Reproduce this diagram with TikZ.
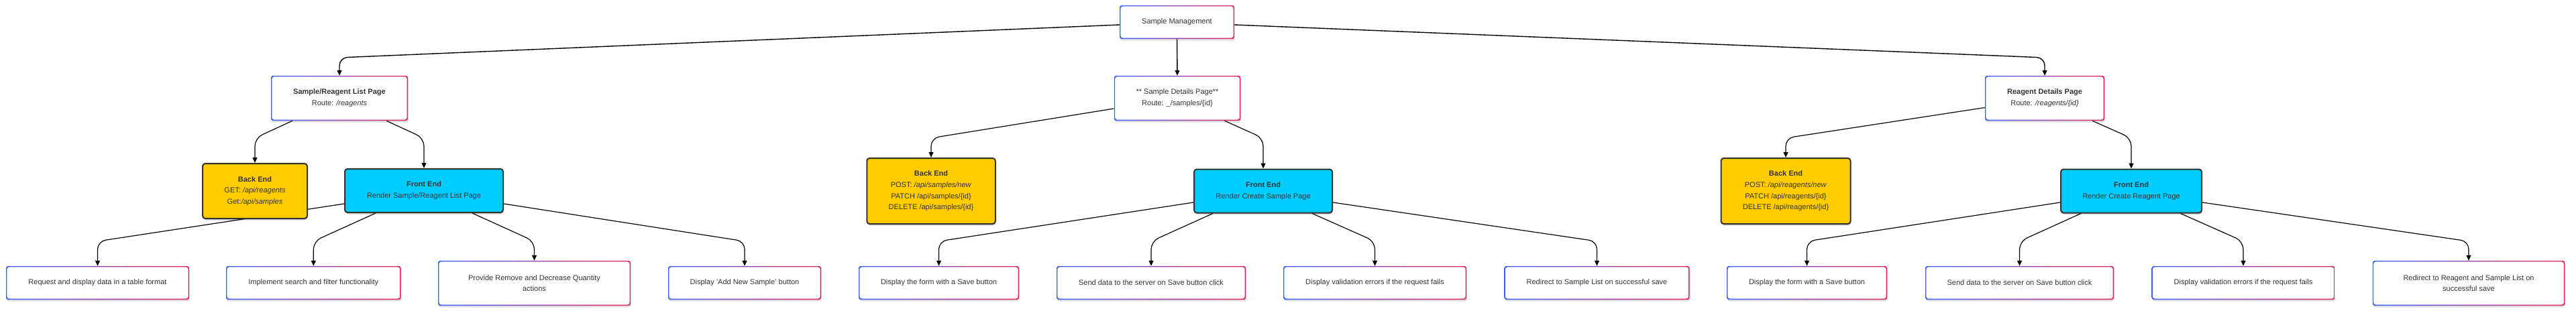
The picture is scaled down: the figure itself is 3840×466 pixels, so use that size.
\documentclass[tikz,border=0pt]{standalone}
\usepackage{fontspec}
\setmainfont{Liberation Sans}
\usetikzlibrary{arrows.meta,shadows,backgrounds}
\definecolor{gblue}{RGB}{55,95,255}
\definecolor{gred}{RGB}{232,35,90}
\definecolor{txt}{RGB}{51,51,51}
\definecolor{beyel}{RGB}{255,204,0}
\definecolor{fecyan}{RGB}{0,204,255}
\definecolor{bord}{RGB}{51,51,51}
\begin{document}
\begin{tikzpicture}[x=1pt,y=1pt,
  every node/.style={font=\fontsize{11}{16.7}\selectfont, text=txt, align=center, inner sep=0pt},
  gradbox/.style={rectangle, rounded corners=3pt, fill=white,
    drop shadow={shadow xshift=0.8pt, shadow yshift=-2.5pt, opacity=0.13, fill=black},
    path picture={
      \shade[left color=gblue, right color=gred, even odd rule]
        (path picture bounding box.south west) rectangle (path picture bounding box.north east)
        ([shift={(1.4pt,1.4pt)}]path picture bounding box.south west) rectangle ([shift={(-1.4pt,-1.4pt)}]path picture bounding box.north east);
    }},
  leafbox/.style={gradbox, minimum height=50},
  leaftall/.style={gradbox, minimum height=67},
  solidbox/.style={rectangle, rounded corners=4pt, draw=bord, line width=2pt,
    drop shadow={shadow xshift=0.8pt, shadow yshift=-2.5pt, opacity=0.18, fill=black}},
  bebox/.style={solidbox, fill=beyel},
  febox/.style={solidbox, fill=fecyan, minimum height=65},
  conn/.style={draw=black, line width=1.2pt, rounded corners=12pt, -{Triangle[length=8pt,width=7pt]}},
  rootconn/.style={conn, line width=1.4pt},
]
\useasboundingbox (0,0) rectangle (3840,-466);

% level 1
\node[gradbox, minimum width=171, minimum height=50] (root) at (1754.5,-33) {Sample Management};

% level 2
\node[gradbox, minimum width=204, minimum height=67] (A) at (506,-146.5) {\textbf{Sample/Reagent List Page}\\Route: \textit{/reagents}};
\node[gradbox, minimum width=188.5, minimum height=67] (B) at (1755,-146.5) {** Sample Details Page**\\Route: \_/samples/\{id\}};
\node[gradbox, minimum width=178, minimum height=67] (C) at (3048,-146.5) {\textbf{Reagent Details Page}\\Route: \textit{/reagents/\{id\}}};

% level 3
\node[bebox, minimum width=156, minimum height=82] (BEA) at (380,-285) {\textbf{Back End}\\GET: \textit{/api/reagents}\\Get:\textit{/api/samples}};
\node[febox, minimum width=236] (FEA) at (632,-284.5) {\textbf{Front End}\\Render Sample/Reagent List Page};
\node[bebox, minimum width=191.5, minimum height=98] (BEB) at (1388,-285) {\textbf{Back End}\\POST: \textit{/api/samples/new}\\PATCH /api/samples/\{id\}\\DELETE /api/samples/\{id\}};
\node[febox, minimum width=206] (FEB) at (1883,-285) {\textbf{Front End}\\Render Create Sample Page};
\node[bebox, minimum width=193, minimum height=98] (BEC) at (2662,-285) {\textbf{Back End}\\POST: \textit{/api/reagents/new}\\PATCH /api/reagents/\{id\}\\DELETE /api/reagents/\{id\}};
\node[febox, minimum width=210] (FEC) at (3177,-285) {\textbf{Front End}\\Render Create Reagent Page};

% level 4
\node[leafbox, minimum width=273] (L1) at (145.5,-422) {Request and display data in a table format};
\node[leafbox, minimum width=260.6] (L2) at (467.3,-422) {Implement search and filter functionality};
\node[leaftall, minimum width=287] (L3) at (796.5,-422.5) {Provide Remove and Decrease Quantity\\actions};
\node[leafbox, minimum width=228] (L4) at (1110,-422) {Display 'Add New Sample' button};
\node[leafbox, minimum width=239] (L5) at (1399.5,-422) {Display the form with a Save button};
\node[leafbox, minimum width=282] (L6) at (1716,-422) {Send data to the server on Save button click};
\node[leafbox, minimum width=273] (L7) at (2049.5,-422) {Display validation errors if the request fails};
\node[leafbox, minimum width=276] (L8) at (2380.5,-422) {Redirect to Sample List on successful save};
\node[leafbox, minimum width=239] (L9) at (2693.5,-422) {Display the form with a Save button};
\node[leafbox, minimum width=281] (L10) at (3010.5,-422) {Send data to the server on Save button click};
\node[leafbox, minimum width=273] (L11) at (3344,-422) {Display validation errors if the request fails};
\node[leaftall, minimum width=286.5] (L12) at (3680,-422.5) {Redirect to Reagent and Sample List on\\successful save};

\coordinate (lvA) at (0,-86);
\coordinate (lvB) at (0,-206);
\coordinate (lvC) at (0,-360);

\begin{pgfonlayer}{background}
\fill[white] (0,0) rectangle (3840,-466);
% root edges
\draw[rootconn] ([yshift=-4]root.west) -- (A.north |- lvA) -- (A.north);
\draw[rootconn] (root.south) -- (B.north);
\draw[rootconn] ([yshift=-4]root.east) -- (C.north |- lvA) -- (C.north);
% level 2 -> 3
\draw[conn] ([xshift=-70]A.south) -- (BEA.north |- lvB) -- (BEA.north);
\draw[conn] ([xshift=70]A.south) -- (FEA.north |- lvB) -- (FEA.north);
\draw[conn] ([yshift=-15.5]B.west) -- (BEB.north |- lvB) -- (BEB.north);
\draw[conn] ([xshift=70.5]B.south) -- (FEB.north |- lvB) -- (FEB.north);
\draw[conn] ([yshift=-14]C.west) -- (BEC.north |- lvB) -- (BEC.north);
\draw[conn] ([xshift=71]C.south) -- (FEC.north |- lvB) -- (FEC.north);
% level 3 -> 4
\draw[conn] ([yshift=-19.5]FEA.west) -- (L1.north |- lvC) -- (L1.north);
\draw[conn] ([xshift=-72]FEA.south) -- (L2.north |- lvC) -- (L2.north);
\draw[conn] ([xshift=72]FEA.south) -- (L3.north |- lvC) -- (L3.north);
\draw[conn] ([yshift=-19.5]FEA.east) -- (L4.north |- lvC) -- (L4.north);
\draw[conn] ([yshift=-17]FEB.west) -- (L5.north |- lvC) -- (L5.north);
\draw[conn] ([xshift=-75]FEB.south) -- (L6.north |- lvC) -- (L6.north);
\draw[conn] ([xshift=73]FEB.south) -- (L7.north |- lvC) -- (L7.north);
\draw[conn] ([yshift=-17]FEB.east) -- (L8.north |- lvC) -- (L8.north);
\draw[conn] ([yshift=-17]FEC.west) -- (L9.north |- lvC) -- (L9.north);
\draw[conn] ([xshift=-75]FEC.south) -- (L10.north |- lvC) -- (L10.north);
\draw[conn] ([xshift=73.5]FEC.south) -- (L11.north |- lvC) -- (L11.north);
\draw[conn] ([yshift=-17]FEC.east) -- (L12.north |- lvC) -- (L12.north);
\end{pgfonlayer}
\end{tikzpicture}
\end{document}
